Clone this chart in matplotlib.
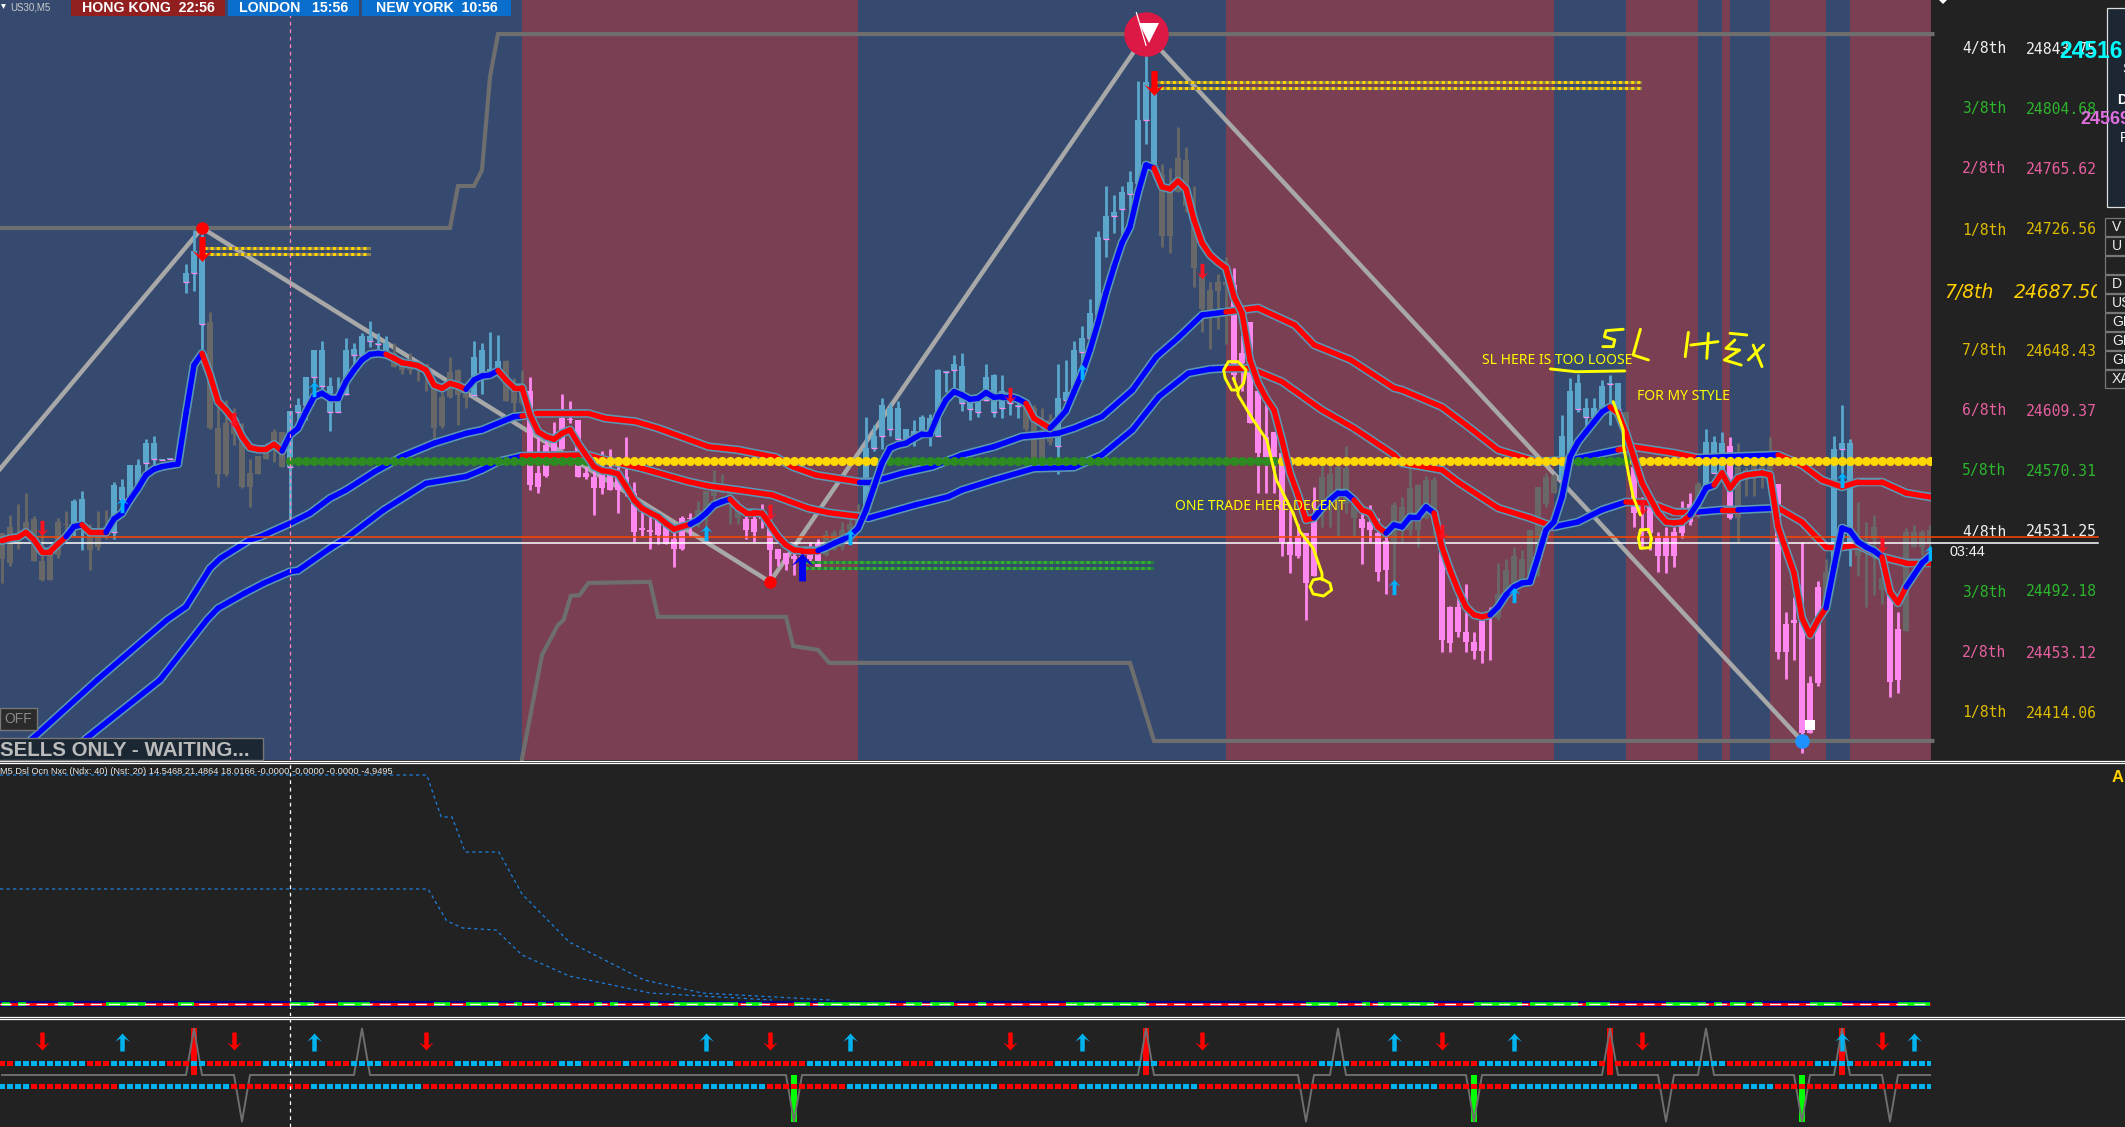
import numpy as np
import matplotlib
matplotlib.use("Agg")
import matplotlib.pyplot as plt
from matplotlib.path import Path
from matplotlib.collections import LineCollection
from matplotlib.patches import Rectangle
from matplotlib.transforms import Bbox, TransformedBbox

W, H = 2125, 1127
BG = "#222222"

open_ = [24530,24534,24530,24537,24539,24512,24516,24537,24536,24536,
24536,24532,24530,24534,24531,24552,24554,24560,24575,24578,
24577,24578,24576,24692,24698,24665,24666,24598,24601,24605,
24590,24569,24580,24586,24595,24595,24573,24608,24613,24631,
24625,24608,24608,24620,24645,24645,24654,24652,24646,24646,
24638,24641,24639,24639,24625,24618,24634,24635,24621,24619,
24634,24633,24634,24641,24625,24626,24622,24569,24587,24594,
24604,24603,24603,24569,24566,24569,24569,24567,24566,24556,
24533,24532,24539,24535,24526,24540,24540,24539,24545,24554,
24556,24550,24540,24539,24539,24541,24533,24520,24517,24515,
24515,24519,24523,24516,24519,24521,24532,24533,24545,24585,
24593,24597,24591,24591,24592,24596,24594,24593,24634,24635,
24614,24610,24608,24616,24608,24611,24614,24612,24614,24611,
24593,24603,24586,24616,24621,24647,24656,24671,24720,24735,
24739,24749,24756,24797,24766,24761,24752,24772,24771,24728,
24696,24687,24692,24692,24690,24646,24666,24622,24592,24595,
24582,24524,24528,24530,24539,24551,24547,24553,24549,24540,
24539,24537,24530,24525,24524,24532,24532,24532,24540,24540,
24524,24482,24482,24466,24460,24473,24476,24475,24491,24498,
24498,24498,24508,24549,24556,24564,24579,24610,24605,24605,
24611,24626,24610,24608,24573,24551,24549,24527,24527,24531,
24540,24549,24543,24561,24569,24570,24586,24573,24571,24575,
24573,24582,24562,24471,24474,24474,24433,24495,24487,24513,
24584,24524,24515,24519,24526,24493,24493,24468,24467,24521,24521,24524]
high = [24530,24542,24549,24556,24541,24536,24517,24540,24544,24552,
24557,24536,24544,24545,24563,24565,24574,24578,24591,24593,
24577,24578,24576,24704,24726,24727,24673,24612,24616,24611,
24601,24578,24580,24588,24597,24595,24609,24617,24631,24648,
24654,24631,24631,24656,24653,24659,24667,24659,24657,24653,
24644,24646,24639,24639,24626,24621,24644,24636,24624,24654,
24653,24660,24658,24642,24630,24635,24631,24592,24590,24602,
24620,24615,24603,24573,24577,24583,24584,24577,24592,24563,
24544,24542,24543,24536,24534,24541,24543,24551,24557,24571,
24568,24559,24551,24541,24541,24549,24542,24520,24517,24517,
24519,24524,24526,24532,24532,24537,24539,24549,24605,24600,
24617,24614,24615,24597,24603,24606,24607,24636,24634,24645,
24646,24618,24620,24639,24633,24632,24620,24618,24615,24613,
24611,24607,24639,24642,24654,24664,24681,24725,24754,24748,
24754,24764,24822,24853,24827,24768,24766,24792,24779,24754,
24700,24692,24697,24708,24701,24658,24666,24622,24618,24595,
24592,24545,24536,24530,24560,24575,24577,24574,24586,24549,
24548,24548,24540,24532,24550,24553,24574,24562,24567,24566,
24532,24483,24488,24497,24466,24474,24482,24511,24513,24521,
24519,24532,24560,24569,24568,24606,24630,24633,24617,24617,
24629,24632,24627,24608,24575,24553,24549,24531,24534,24534,
24551,24556,24563,24597,24593,24595,24592,24588,24573,24575,
24575,24592,24562,24479,24489,24524,24438,24499,24513,24593,
24613,24591,24550,24537,24542,24526,24498,24479,24533,24535,24532,24535]
low = [24498,24509,24520,24530,24512,24499,24500,24514,24530,24528,
24519,24506,24519,24526,24526,24545,24554,24556,24569,24574,
24577,24578,24576,24685,24686,24645,24597,24560,24567,24587,
24559,24547,24568,24578,24576,24573,24539,24597,24603,24627,
24619,24596,24608,24619,24639,24641,24650,24648,24643,24637,
24633,24633,24628,24622,24591,24598,24617,24600,24611,24618,
24620,24633,24634,24615,24608,24613,24558,24556,24566,24583,
24584,24601,24566,24565,24542,24555,24558,24543,24554,24524,
24528,24520,24523,24523,24508,24519,24528,24534,24532,24551,
24556,24536,24536,24526,24524,24533,24499,24509,24506,24503,
24506,24512,24508,24515,24519,24519,24532,24532,24545,24583,
24584,24593,24590,24591,24586,24593,24586,24593,24621,24622,
24609,24603,24605,24615,24605,24604,24606,24604,24596,24578,
24578,24587,24568,24610,24620,24638,24652,24670,24708,24724,
24717,24734,24755,24781,24764,24715,24711,24750,24737,24689,
24660,24649,24662,24652,24628,24622,24601,24556,24556,24556,
24515,24504,24514,24474,24502,24534,24534,24528,24543,24528,
24510,24524,24499,24491,24499,24524,24529,24521,24539,24528,
24453,24453,24463,24453,24449,24446,24448,24474,24490,24497,
24497,24498,24502,24547,24556,24558,24579,24608,24599,24599,
24610,24600,24608,24573,24534,24520,24519,24505,24504,24508,
24527,24535,24540,24560,24569,24569,24539,24524,24554,24554,
24559,24566,24449,24436,24448,24388,24401,24431,24485,24504,
24569,24509,24502,24482,24490,24484,24424,24427,24467,24521,24516,24516]
close = [24513,24511,24523,24530,24512,24500,24500,24516,24535,24551,
24552,24519,24521,24528,24561,24560,24574,24574,24588,24588,
24577,24578,24576,24698,24712,24712,24598,24568,24568,24594,
24560,24560,24568,24578,24589,24573,24609,24613,24631,24648,
24648,24625,24620,24648,24649,24657,24657,24653,24653,24637,
24635,24635,24635,24635,24598,24599,24618,24619,24617,24644,
24648,24636,24641,24615,24614,24614,24561,24560,24567,24583,
24584,24603,24566,24566,24559,24559,24558,24558,24562,24531,
24532,24531,24529,24523,24520,24520,24539,24545,24557,24562,
24562,24556,24546,24532,24531,24539,24519,24513,24510,24513,
24512,24513,24508,24529,24530,24532,24536,24544,24585,24593,
24613,24611,24611,24597,24596,24605,24604,24635,24634,24639,
24638,24615,24615,24631,24632,24622,24615,24612,24597,24578,
24578,24589,24617,24621,24648,24656,24672,24721,24735,24737,
24750,24757,24797,24821,24817,24722,24722,24750,24741,24701,
24675,24674,24686,24690,24632,24640,24601,24582,24579,24579,
24524,24516,24515,24498,24502,24566,24568,24573,24572,24549,
24533,24532,24505,24506,24548,24547,24559,24561,24564,24564,
24461,24459,24466,24460,24454,24454,24475,24491,24506,24515,
24513,24532,24560,24566,24567,24593,24622,24627,24611,24611,
24625,24627,24627,24590,24543,24543,24530,24515,24515,24515,
24530,24537,24562,24589,24589,24588,24540,24540,24564,24570,
24566,24569,24453,24453,24472,24401,24401,24433,24505,24584,
24588,24588,24519,24524,24534,24501,24434,24435,24531,24531,24531,24532]

session_edges = [-0.25,65,107,153,194,203,212,215,216,221,228,231,241.2]

fast_ma = [24525.1,24526.6,24527.3,24530.5,24525.6,24518,24518,24523,24527.7,24534.2,
24535.3,24530.5,24530.5,24530.5,24539.1,24542.8,24551.4,24558.9,24567.5,24571.2,
24572.9,24573.8,24574.6,24607.3,24638.5,24646,24632.1,24614.9,24609.5,24603,
24592.3,24585.2,24584.1,24584.1,24587.3,24583,24593.4,24597.7,24608.4,24618.1,
24620.3,24617,24617,24627.8,24635.3,24641.8,24645.4,24646,24645.4,24642.9,
24640,24639.2,24638.1,24635.3,24625.6,24623.5,24626.7,24625.2,24622.8,24628.9,
24631.4,24632.1,24634.9,24628.9,24623.9,24623.9,24606.3,24595.5,24592.3,24590.6,
24594.4,24596.6,24588,24580.4,24572.9,24570.3,24569.7,24568.2,24560,24551.4,
24546,24543.2,24540.6,24536.3,24532.5,24534.2,24535.7,24538.5,24542.8,24548.2,
24550.3,24552,24546.7,24543.2,24543.2,24542.8,24535.3,24527.7,24522.3,24519.1,
24518.7,24518.7,24518.7,24520.8,24523.4,24525.6,24528.2,24533.1,24544.9,24560,
24575.1,24584.7,24586.9,24588,24591.2,24594,24594,24606.3,24616,24621.3,
24619.2,24616.4,24617,24620.7,24617.7,24618.1,24618.1,24616.6,24613.8,24604.1,
24600.9,24597.7,24603,24609,24621.3,24633.2,24648.2,24665.7,24685,24701.8,
24717.3,24727.6,24749.6,24767.7,24765.7,24753.5,24752.2,24757.3,24752.2,24732.2,
24717.3,24709.6,24705,24701.2,24682.5,24672.1,24641.8,24627,24617.2,24609.5,
24590.1,24568.8,24554.6,24538.5,24539.8,24546.2,24551.4,24555.9,24555.9,24551.4,
24545,24543,24534,24530,24535.3,24534,24540.4,24540.4,24546.9,24543,
24521,24506.2,24493.3,24482.3,24477.2,24475.9,24477.2,24482.3,24490,24495.2,
24497.8,24498.4,24514.6,24532,24537.2,24553.3,24579.2,24588.8,24595.3,24601.8,
24608.2,24611.4,24607.6,24594.7,24578.5,24562.4,24552.7,24543,24537.2,24536.6,
24537.2,24541.7,24549.5,24559.1,24561,24568.8,24559.1,24565.6,24567.5,24568.2,
24568.8,24567.5,24534,24519.1,24504.3,24475.2,24464.2,24473.9,24481.7,24508.1,
24533.3,24531.4,24524.3,24521,24518.5,24514.6,24492,24484.9,24495.2,24503,24510.7,24515.2]
fast_red_from = [0,10,25,48,62,91,128,144,169,179,201,214,235]
fast_red_to = [8,13,35,58,86,102,131,164,173,186,211,228,238]

upper_ma_bar = [0.7,3.9,11.9,20.6,23,26,27.3,31,32.3,36,38.5,41,43,46.6,50,54,58,60,64,65,67,73.3,75.4,79.2,82,88.3,92,96.7,98.8,101.7,107.1,108.8,110.4,112.5,116.3,120,124,127.5,132,134,137.5,141.3,144.3,147,150,153,157,161.6,164,168.6,174,175,180,183,187,192,196,202,204,209,212,215,222,225,227.5,230,232,235,238,241]
upper_ma_val = [24383.5,24397.7,24435.2,24473.9,24482.5,24507.3,24513.7,24525.6,24527.7,24536.3,24542.8,24552.5,24557.8,24569.7,24579.4,24588,24594.4,24596.6,24605.2,24605.6,24607.3,24607.3,24604.1,24602,24597.7,24585.8,24583.7,24579,24572.9,24567.5,24563.1,24563.1,24565.4,24568.6,24572.9,24580.4,24585.8,24592.3,24594.4,24597.7,24605.2,24622.4,24643.9,24656,24670.8,24672.8,24675.4,24664.4,24651.5,24641.8,24623.7,24622.4,24611.4,24599.8,24583.7,24576,24577.2,24583.7,24585.6,24581.7,24578.5,24579.2,24580.5,24574,24564.3,24559.8,24563,24563,24555.9,24553.3]
upper_red_from = [65,153,203,222]
upper_red_to = [107,195,212,241]

lower_ma_bar = [7.7,10.6,19.75,25.6,27,30.3,32.7,36,37,41,43,47.7,53,58,60,62,65,73.3,75.4,80,85.8,88.3,92,96.3,100.8,103.3,107.3,108.3,114.2,118.3,120,124,129,134,137.5,141.3,144.6,148.3,151,153,156,160,165,169,174,175,180,182,187,191,194,197,200,203,206,209,212,215,217,222,225,228,230,232,235,238,241]
lower_ma_val = [24383.5,24397.7,24435.2,24473.9,24481.5,24491.1,24497.6,24505.1,24505.8,24520.2,24526.6,24544.9,24562.1,24566.5,24570.8,24576.1,24579.8,24580.4,24577.2,24571.8,24563.2,24560.4,24557.8,24554.6,24546,24543.2,24540.6,24539.6,24548.2,24553.5,24557.8,24564.3,24571.8,24572.5,24580.5,24596.6,24618.1,24633.2,24635.8,24636.4,24636.4,24627.8,24609.5,24597.7,24580.5,24575.3,24570.8,24563,24546.2,24539.8,24534,24537.2,24545,24550.1,24549.5,24543.6,24543.6,24545,24545,24546.2,24537.2,24521,24521,24522.3,24514.6,24510.7,24510.7]
lower_red_from = [65,153,203,215,222]
lower_red_to = [107,194,212,217,241]

top_step_bar = [-0.25,56,57,59,60,61,62,241.3]
top_step_val = [24727,24727,24754.1,24754.1,24764.4,24824.5,24852.2,24852.2]
bot_step_bar = [65,67.5,69.5,70.2,71.1,72.2,73.3,81,82,98,98.9,102,103.4,141,144,241.3]
bot_step_val = [24384.2,24451.3,24470.7,24474,24489.4,24490,24497.8,24498.5,24475.9,24475.9,24457.1,24454.6,24446.2,24446.2,24395.8,24395.8]

zigzag_bar = [-0.25,25,96,143,225]
zigzag_val = [24571.4,24727,24498.5,24852.2,24395.8]

level_price = 24576.6
dot_from = [36,74,110,160,196,204]
dot_to = [73,109,159,195,203,241]
dot_is_yellow = [False,True,False,True,False,True]
bid_price = 24523.4
ask_price = 24527.7

up_bar = [15,39,88,106,135,174,189,230,241]
up_val = [24548.2,24623.1,24530.1,24527.5,24634,24495.2,24490,24564.3,24517.2]
dn_bar = [5,29,96,126,150,180,205,235]
dn_val = [24533.3,24603.1,24543.6,24619.2,24699.3,24530.7,24546.9,24522.4]
big_dn_bar = [25,144]
big_dn_val = [24713.4,24820.6]

res_zone_bar = [25.25,45.9]
res_zone_vals = [24714,24710.2]
res2_zone_bar = [144,204.7]
res2_zone_vals = [24821.3,24817.4]
sup_zone_bar = [100.4,143.75]
sup_zone_vals = [24511.4,24507.5]

trade1_bar = [153.9,154.5,153.7,152.9,152.7,153.3,154.5,155.5,155.2,154.5,154.5,156.4,158.1,159.3,161.4,162.25,163.9,165,165]
trade1_val = [24630,24622.4,24622.4,24630,24635.3,24640.7,24640.7,24635.3,24626.7,24622.4,24619.2,24603,24590.1,24564.3,24542.8,24531,24520.2,24504,24499.8]
circ2_bar = [164.9,166,166.2,165.2,163.9,163.5,163.9,164.9]
circ2_val = [24500.8,24497.6,24493.3,24489.4,24490.7,24495.4,24499.8,24500.8]
trade2_bar = [201.4,202.65,202.7,203.3,203.9,204.8]
trade2_val = [24614.9,24596.6,24585.8,24568.6,24553.5,24541.7]
circ3_bar = [204.8,205.8,206.2,206,204.8,204.55,204.8]
circ3_val = [24532,24532.4,24526.6,24520.6,24520.2,24526.6,24532]
under_bar = [193.55,196.7,202.85]
under_val = [24636,24634.2,24634.7]
hand_bars = [[202.65,200.5,200.3,201.6,201.4,200.1],[204.8,203.9,205.8],[210.8,210.4],[211.1,214.5],[213.3,213.1],[216,218.1],[216.6,215.5,217.2,215.3,217.4],[218.9,220],[220.2,218.3]]
hand_vals = [[24661.6,24660.7,24656.8,24654.7,24650.4,24650.4],[24661.6,24645,24641.8],[24659.6,24643.9],[24651.4,24653.6],[24659,24642.8],[24659,24657.9],[24654.7,24649.3,24648.2,24641.8,24638.5],[24651.4,24637.5],[24651.4,24641.8]]

osc_a_bar = [-0.25,53.1,54.9,56.25,57.9,62.1,65,70.9,80.25,87.5,103.4,104.75]
osc_a_val = [45.8,45.8,37.4,37.4,30.4,30.4,22,12.4,4.8,2.2,0.8,0.2]
osc_b_bar = [-0.25,53.25,55.6,57.6,61.75,65,70.9,73.9,81,96.25]
osc_b_val = [23,23,16.6,15.2,14.8,9.8,5.6,4.6,2.2,0.8]
strip_green_from = [0,2,7,13,22,36,42,54,58,64,67,69,74,76,81,84,93,99,102,113,116,122,133,163,170,172,184,191,198,208,214,216,219,226,237]
strip_green_to = [1,3,9,18,24,39,46,56,62,65,68,71,75,77,82,92,95,101,111,115,119,123,143,167,171,179,190,197,201,213,215,218,220,230,241]

row1_red_from = [0,11,21,26,41,48,63,73,79,92,113,125,145,169,179,200,216,232]
row1_red_to = [1,13,23,32,43,56,69,77,84,100,116,131,164,173,184,208,226,237]
row2_red_from = [4,29,53,96,125,150,180,205,222,235]
row2_red_to = [14,38,87,105,134,173,188,217,229,238]
swing_high = [24,45,143,167,201,213,230]
swing_low = [30,99,163,184,208,225,236]
spike_red = [24,143,201,230]
spike_green = [99,184,225]
sig_dn = [5,29,53,96,126,150,180,205,235]
sig_up = [15,39,88,106,135,174,189,230,239]

level_names = ["4/8th","3/8th","2/8th","1/8th","7/8th","6/8th","5/8th","4/8th","3/8th","2/8th","1/8th"]
level_prices = ["24843.75","24804.68","24765.62","24726.56","24648.43","24609.37","24570.31","24531.25","24492.18","24453.12","24414.06"]
level_colors = ["#F0F0F0","#2DB52D","#E85FA0","#DDBB00","#DDBB00","#E85FA0","#2DB52D","#F0F0F0","#2DB52D","#E85FA0","#DDBB00"]
level_rows = [49,109,169,230,351,411,471,532,592,653,713]
button_labels = ["V","U","","D","US","GB","GB","GB","XA"]

N = len(close)
bars = np.arange(N)
px = lambda y0, y1: [0, 1 - y1 / H, 1931 / W, (y1 - y0) / H]
fig = plt.figure(figsize=(W / 100, H / 100), dpi=100, facecolor=BG)
ax1 = fig.add_axes(px(0, 760))
ax2 = fig.add_axes(px(763, 1016))
ax3 = fig.add_axes(px(1019, 1127))
xl = (-0.25, 241.125)
ax1.set_xlim(*xl); ax1.set_ylim(24383.5, 24874.2)
ax2.set_xlim(*xl); ax2.set_ylim(-2.4, 48.2)
ax3.set_xlim(*xl); ax3.set_ylim(-1.118, 1.204)
for a in (ax1, ax2, ax3):
    a.set_facecolor(BG)
    a.set_xticks([]); a.set_yticks([])
    for s in a.spines.values():
        s.set_visible(False)

# sessions
BLUE_Z, RED_Z = "#354A6E", "#7A3F52"
for k in range(len(session_edges) - 1):
    ax1.axvspan(session_edges[k], session_edges[k + 1], color=BLUE_Z if k % 2 == 0 else RED_Z, lw=0, zorder=1)
zone_idx = np.searchsorted(session_edges, bars, side="left") - 1
zone_idx[0] = 0
red_zone = zone_idx % 2 == 1

# step lines and zigzag
ax1.plot(top_step_bar, top_step_val, color="#6E6E6E", lw=3, zorder=2, clip_on=False, solid_joinstyle="miter")
ax1.plot(bot_step_bar, bot_step_val, color="#6E6E6E", lw=3, zorder=2, clip_on=False, solid_joinstyle="miter")
ax1.plot(zigzag_bar, zigzag_val, color="#A8A8A8", lw=3.2, zorder=2.2)

# candles
o, h, l, c = map(np.array, (open_, high, low, close))
C_UP, C_DN, C_NT = "#5BA7CC", "#FF88F0", "#686868"
colors = []
for i in bars:
    if red_zone[i]:
        colors.append(C_DN if c[i] <= o[i] else C_NT)
    else:
        colors.append(C_UP if c[i] >= o[i] else C_NT)
ax1.vlines(bars, l, h, colors=colors, lw=2.0, zorder=3)
top = np.maximum(o, c); bot = np.minimum(o, c)
ax1.bar(bars, np.maximum(top - bot, 0.8), bottom=bot, width=0.78, color=colors, lw=0, zorder=3)
ticks = [i for i in bars if colors[i] == C_UP]
ax1.hlines(o[ticks], np.array(ticks) - 0.39, np.array(ticks) + 0.39, colors=C_DN, lw=0.9, zorder=3.1)

# moving averages
OUTLINE = "#5A97B5"
def draw_ma(x, y, red_from, red_to, z):
    x = np.asarray(x, float); y = np.asarray(y, float)
    ax1.plot(x, y, color=OUTLINE, lw=6.2, zorder=z, solid_capstyle="round", solid_joinstyle="round")
    segs, cols = [], []
    for k in range(len(x) - 1):
        mid = (x[k] + x[k + 1]) / 2
        red = any(a <= mid < b for a, b in zip(red_from, red_to))
        segs.append([(x[k], y[k]), (x[k + 1], y[k + 1])])
        cols.append("#FF0000" if red else "#0000FF")
    ax1.add_collection(LineCollection(segs, colors=cols, linewidths=3.9, zorder=z + 0.1, capstyle="round"))

draw_ma(upper_ma_bar, upper_ma_val, upper_red_from, upper_red_to, 3.5)
draw_ma(lower_ma_bar, lower_ma_val, lower_red_from, lower_red_to, 3.5)

# level dots
for a, b, y in zip(dot_from, dot_to, dot_is_yellow):
    xs = np.arange(a, b + 1)
    ax1.plot(xs, [level_price] * len(xs), ls="", marker="o", ms=6.6, mew=0,
             color="#FFD700" if y else "#2C8C22", zorder=4)

# price lines
ax1.plot([xl[0], 262], [ask_price, ask_price], color="#FF4500", lw=1.1, zorder=4.5, clip_on=False)
ax1.plot([xl[0], 262], [bid_price, bid_price], color="#FFFFFF", lw=1.1, zorder=4.5, clip_on=False)

draw_ma(bars, fast_ma, fast_red_from, fast_red_to, 5)

# hatch zones
def zone(bx, vals, col, base):
    for v in vals:
        ax1.plot(bx, [v, v], color=base, lw=2.2, zorder=4.6)
        ax1.plot(bx, [v, v], color=col, lw=2.2, ls=(0, (1.0, 1.0)), zorder=4.7)
zone(res_zone_bar, res_zone_vals, "#FFD700", "#8A8050")
zone(res2_zone_bar, res2_zone_vals, "#FFD700", "#8A8050")
zone(sup_zone_bar, sup_zone_vals, "#36B030", "#2A7A44")

# crosshair
ax1.axvline(36, color="#FF88BB", lw=0.9, ls=(0, (3, 3)), zorder=5.5)
ax2.axvline(36, color="#FFFFFF", lw=0.9, ls=(0, (3, 3)), zorder=5)
ax3.axvline(36, color="#FFFFFF", lw=0.9, ls=(0, (3, 3)), zorder=5)

# arrows
ARROW = Path([(0,1),(0.8,0.1),(0.25,0.42),(0.25,-1),(-0.25,-1),(-0.25,0.42),(-0.8,0.1),(0,1)], closed=True)
ARROW_D = Path([(0,-1),(0.8,-0.1),(0.25,-0.42),(0.25,1),(-0.25,1),(-0.25,-0.42),(-0.8,-0.1),(0,-1)], closed=True)
ax1.plot(up_bar, up_val, ls="", marker=ARROW, ms=11, mew=0, color="#00B2FF", zorder=6)
ax1.plot(dn_bar, dn_val, ls="", marker=ARROW_D, ms=11, mew=0, color="#FF1020", zorder=6)
ax1.plot(big_dn_bar, big_dn_val, ls="", marker=ARROW_D, ms=18, mew=0, color="#FF0000", zorder=6.5)
ax1.plot([100], [24508.1], ls="", marker=ARROW, ms=20, mew=0, color="#0000EE", zorder=6.5)
ax1.plot([25, 96], [24727, 24498.5], ls="", marker="o", ms=9, mew=0, color="#FF0000", zorder=6.4)
ax1.plot([225], [24395.8], ls="", marker="o", ms=10.5, mew=0, color="#1E90FF", zorder=6.4)
ax1.plot([226], [24406.1], ls="", marker="s", ms=7.5, mew=0, color="#FFFFFF", zorder=6.4)
# logo marker
ax1.plot([143], [24852.2], ls="", marker="o", ms=32, mew=0, color="#DC1845", zorder=6.6)
ax1.plot([143.4], [24853], ls="", marker="v", ms=14, mew=0, color="#FFFFFF", zorder=6.7)
ax1.plot([141.8, 143], [24866, 24845], color="#FFFFFF", lw=0.9, zorder=6.7)

# handwriting
HAND = dict(color="#FFFF00", lw=2.1, zorder=7, solid_capstyle="round", solid_joinstyle="round", clip_on=False)
ax1.plot(trade1_bar, trade1_val, **HAND)
ax1.plot(circ2_bar, circ2_val, **HAND)
ax1.plot(trade2_bar, trade2_val, **HAND)
ax1.plot(circ3_bar, circ3_val, **HAND)
ax1.plot(under_bar, under_val, **HAND)
for bx, vx in zip(hand_bars, hand_vals):
    ax1.plot(bx, vx, **HAND)

# panel 2
ax2.plot(osc_a_bar, osc_a_val, color="#1E7FE0", lw=0.9, ls=(0, (2.6, 2.6)), zorder=2)
ax2.plot(osc_b_bar, osc_b_val, color="#1E7FE0", lw=0.9, ls=(0, (2.6, 2.6)), zorder=2)
ax2.plot([xl[0], 241], [0, 0], color="#00008B", lw=4.4, zorder=3, solid_capstyle="butt")
ax2.plot([xl[0], 241], [0, 0], color="#FF0000", lw=2.2, zorder=3.1, solid_capstyle="butt")
for a, b in zip(strip_green_from, strip_green_to):
    ax2.plot([a, b], [0, 0], color="#00FF00", lw=2.6, zorder=3.2, solid_capstyle="butt")
ax2.plot([xl[0], 241], [0, 0], color="#FFFFFF", lw=1.0, ls=(0, (8, 5)), zorder=3.3)

# panel 3
osc = np.zeros(N)
osc[swing_high] = 1
osc[swing_low] = -1
ax3.bar(spike_red, [1] * len(spike_red), width=0.85, color="#FF0000", lw=0, zorder=2)
ax3.bar(spike_green, [-1] * len(spike_green), width=0.85, color="#00FF00", lw=0, zorder=2)
ax3.plot(bars, osc, color="#6E6E6E", lw=1.4, zorder=2.5)
def row(y, red_from, red_to):
    cols = ["#00B2EE"] * N
    for a, b in zip(red_from, red_to):
        for i in range(a, b + 1):
            cols[i] = "#FF0000"
    ax3.scatter(bars, [y] * N, marker="s", s=14.5, c=cols, lw=0, zorder=3)
row(0.24, row1_red_from, row1_red_to)
row(-0.24, row2_red_from, row2_red_to)
ax3.plot(sig_dn, [0.74] * len(sig_dn), ls="", marker=ARROW_D, ms=13, mew=0, color="#FF0000", zorder=4)
ax3.plot(sig_up, [0.70] * len(sig_up), ls="", marker=ARROW, ms=13, mew=0, color="#00B2EE", zorder=4)

# overlay: chrome, captions and labels
ov = fig.add_axes([0, 0, 1, 1], zorder=20)
ov.set_xlim(0, W); ov.set_ylim(H, 0); ov.axis("off")
ov.patch.set_alpha(0)
SANS = "Liberation Sans"
NOTO = "Noto Sans"
MONO = "DejaVu Sans Mono"
for yy in (760.5, 762.7, 1016.5, 1018.7):
    ov.plot([0, W], [yy, yy], color="#FFFFFF", lw=0.9)

def box(x0, y0, x1, y1, fc, ec="none", lw=0.0, z=2):
    ov.add_patch(Rectangle((x0, y0), x1 - x0, y1 - y0, fc=fc, ec=ec, lw=lw, zorder=z))

for x0, x1, fc, label in [(71, 225, "#921F1F", "HONG KONG  22:56"), (228, 359, "#0A6FCC", "LONDON   15:56"), (362, 511, "#0A6FCC", "NEW YORK  10:56")]:
    box(x0, 0, x1, 16, fc)
    ov.text((x0 + x1) / 2, 8, label, color="white", fontsize=10.2, fontweight="bold", family=SANS, ha="center", va="center", zorder=3)
ov.text(10, 7.5, "US30,M5", color="#CCCCCC", fontsize=7, family=SANS, va="center")
ov.plot([3], [6], marker="v", ms=3.5, color="white", mew=0)

box(0, 708, 37, 730, "#2B2B2B", "#777777", 1.0)
ov.text(18, 719, "OFF", color="#8A8A8A", fontsize=10, family=SANS, ha="center", va="center", zorder=3)
box(-2, 738, 263, 760, "#1B2733", "#777777", 1.0)
ov.text(0, 750, "SELLS ONLY - WAITING...", color="#BBBBBB", fontsize=14.8, fontweight="bold", family=SANS, va="center", zorder=3)
ov.text(0, 772, "M5 Dsl Ocn Nxc (Ndx: 40) (Nst: 20) 14.5468 21.4864 18.0166 -0.0000 -0.0000 -0.0000 -4.9495",
        color="#E8E8E8", fontsize=6.7, family=SANS, va="center", zorder=3)

CAP = dict(color="#FFFF00", fontsize=10, family=NOTO, va="center", zorder=3)
ov.text(1482, 361, "SL HERE IS TOO LOOSE", **CAP)
ov.text(1637, 396, "FOR MY STYLE", **CAP)
ov.text(1175, 507, "ONE TRADE HERE DECENT", **CAP)

def clip(t, x0, y0, x1, y1):
    t.set_clip_box(TransformedBbox(Bbox([[x0, y0], [x1, y1]]), ov.transData))
    t.set_clip_on(True)

for name, price, col, r in zip(level_names, level_prices, level_colors, level_rows):
    t1 = ov.text(1962, r, name, color=col, fontsize=10.6, family=MONO, va="center", zorder=3)
    t2 = ov.text(2026, r, price, color=col, fontsize=10.6, family=MONO, va="center", zorder=3)
    if price == "24531.25":
        clip(t1, 1950, 510, 2110, 536); clip(t2, 1950, 510, 2098, 536)
ov.text(1944, 292, "7/8th", color="#FFD000", fontsize=13.5, style="italic", family="DejaVu Sans", va="center", zorder=3)
t = ov.text(2014, 292, "24687.50", color="#FFD000", fontsize=13.5, style="italic", family="DejaVu Sans", va="center", zorder=3)
clip(t, 2000, 270, 2097, 310)
ov.text(1950, 552, "03:44", color="#F0F0F0", fontsize=10.4, family=SANS, va="center", zorder=3)

box(2107, 8, 2135, 207, "#1C2733", "#DDDDDD", 0.9, z=4)
ov.text(2059, 51, "24516", color="#00FFFF", fontsize=16.5, fontweight="bold", family=SANS, va="center", zorder=6, clip_on=True)
ov.text(2080, 119, "24569", color="#E070E0", fontsize=13, fontweight="bold", family=SANS, va="center", zorder=6, clip_on=True)
ov.text(2122, 69, "S", color="white", fontsize=10, family=SANS, va="center", zorder=5, clip_on=True)
ov.text(2117, 100, "D", color="white", fontsize=10, fontweight="bold", family=SANS, va="center", zorder=5, clip_on=True)
ov.text(2120, 138, "F", color="white", fontsize=10, family=SANS, va="center", zorder=5, clip_on=True)
for k, lab in enumerate(button_labels):
    y0 = 218 + 19 * k
    box(2105, y0, 2135, y0 + 17.5, "#222222", "#777777", 0.9, z=4)
    if lab:
        ov.text(2112, y0 + 9, lab, color="#EEEEEE", fontsize=10, family=SANS, va="center", zorder=5, clip_on=True)
ov.plot([1943], [0], marker="D", ms=4, color="white", mew=0, clip_on=True)
ov.text(2112, 778, "A", color="#FFD000", fontsize=12, fontweight="bold", family=SANS, va="center", zorder=5, clip_on=True)

fig.savefig("out.png", dpi=100, facecolor=BG)
